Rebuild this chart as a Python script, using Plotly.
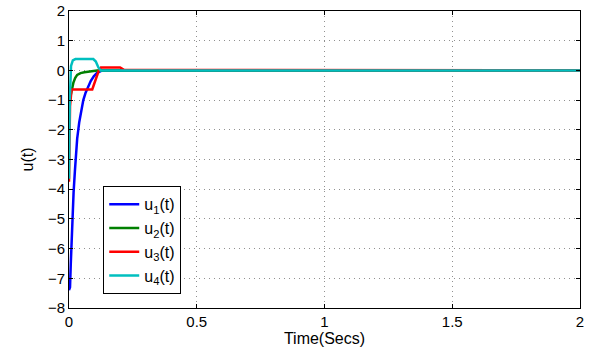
import plotly.graph_objects as go

# Data
t_u1 = [0, 0.004, 0.007, 0.013, 0.018, 0.023, 0.032, 0.04, 0.048, 0.056, 0.065, 0.075, 0.085, 0.097, 0.11, 0.13, 2.0]
u1 = [-7.4, -7.3, -6.5, -5.0, -4.1, -3.4, -2.3, -1.75, -1.3, -1.0, -0.75, -0.53, -0.36, -0.2, -0.08, 0.0, 0.0]

t_u2 = [0, 0.003, 0.009, 0.013, 0.017, 0.024, 0.032, 0.045, 0.06, 0.09, 0.11, 2.0]
u2 = [-1.1, -0.95, -0.75, -0.58, -0.42, -0.26, -0.15, -0.09, -0.06, -0.02, 0.0, 0.0]

t_u3 = [0, 0.004, 0.01, 0.02, 0.091, 0.117, 0.125, 0.2, 0.215, 2.0]
u3 = [-3.75, -1.2, -0.64, -0.64, -0.64, 0.0, 0.1, 0.1, 0.02, 0.0]

t_u4 = [0, 0.003, 0.008, 0.015, 0.025, 0.095, 0.105, 0.115, 0.124, 2.0]
u4 = [-3.65, -1.0, 0.15, 0.34, 0.38, 0.38, 0.3, 0.1, 0.0, 0.0]

series = [
    ("u<sub>1</sub>(t)", t_u1, u1, "#0000ff"),
    ("u<sub>2</sub>(t)", t_u2, u2, "#008000"),
    ("u<sub>3</sub>(t)", t_u3, u3, "#ff0000"),
    ("u<sub>4</sub>(t)", t_u4, u4, "#00bfbf"),
]

x_ticks = [0, 0.5, 1, 1.5, 2]
y_ticks = [2, 1, 0, -1, -2, -3, -4, -5, -6, -7, -8]

fig = go.Figure()
for name, tx, ty, col in series:
    fig.add_trace(go.Scatter(x=tx, y=ty, mode="lines", name=name,
                             line=dict(color=col, width=2.5)))

font = "Liberation Sans, Arial, Helvetica, sans-serif"
fig.update_layout(
    width=590, height=348, autosize=False,
    margin=dict(l=69, r=10, t=11, b=40, autoexpand=False),
    paper_bgcolor="white", plot_bgcolor="white",
    font=dict(family=font, size=15, color="black"),
    showlegend=True,
    legend=dict(x=0.067, y=0.41, xanchor="left", yanchor="top",
                bordercolor="black", borderwidth=1, bgcolor="white",
                font=dict(size=16), tracegroupgap=0),
)
fig.update_xaxes(range=[0, 2], tickvals=x_ticks, ticktext=[str(v) for v in x_ticks],
                 showline=True, linecolor="black", linewidth=1, mirror="ticks",
                 ticks="inside", ticklen=4, tickcolor="black", automargin=False,
                 showgrid=True, gridcolor="#909090", griddash="1px,4px", gridwidth=1,
                 zeroline=False, title=dict(text="Time(Secs)", standoff=0, font=dict(size=16)))
fig.update_yaxes(range=[-8, 2], tickvals=y_ticks, ticktext=[str(v).replace("-", "\u2212") for v in y_ticks],
                 showline=True, linecolor="black", linewidth=1, mirror="ticks",
                 ticks="inside", ticklen=4, tickcolor="black", automargin=False,
                 showgrid=True, gridcolor="#909090", griddash="1px,4px", gridwidth=1,
                 zeroline=False, title=dict(text="u(t)", standoff=10, font=dict(size=16)))

fig.write_html("out.html", config={"displayModeBar": False},
               post_script="document.body.style.margin='0px';")
